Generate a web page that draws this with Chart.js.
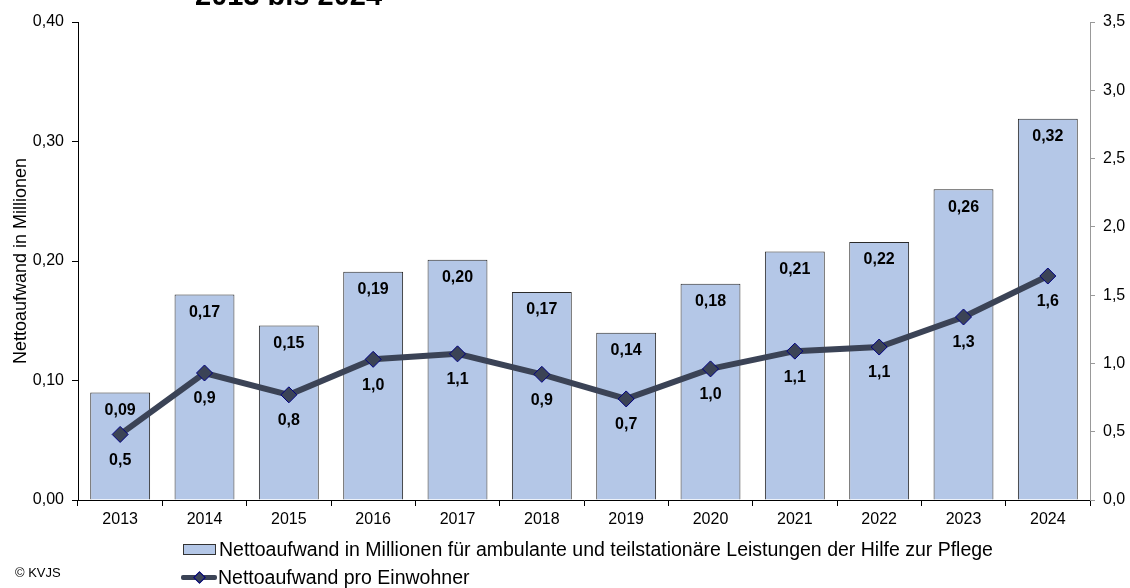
<!DOCTYPE html>
<html>
<head>
<meta charset="utf-8">
<script src="https://cdn.jsdelivr.net/npm/chart.js@4.4.1/dist/chart.umd.min.js"></script>
<style>
  html, body { margin: 0; padding: 0; background: #fff; }
  #wrap { position: relative; width: 1130px; height: 588px; overflow: hidden; font-family: "Liberation Sans", Arial, sans-serif; }
  #c { position: absolute; left: 0; top: 0; }
  #title { position: absolute; left: 195px; top: -22px; font-size: 29px; line-height: 34px; font-weight: bold; color: #000; white-space: nowrap; }
  #copy { position: absolute; left: 15px; top: 565px; font-size: 13px; line-height: 15px; color: #000; }
  .leg { position: absolute; left: 181px; height: 22px; font-size: 19.5px; line-height: 22px; color: #000; white-space: nowrap; display: flex; align-items: center; }
  .box { width: 31px; height: 9px; background: #b4c7e7; border: 1px solid #333; margin-left: 2px; margin-right: 3px; }
  .lineicon { width: 36px; height: 14px; position: relative; margin-right: 1px; }
  .lineicon .ln { position: absolute; left: 0; right: 0; top: 5px; height: 5px; background: #3b4356; border-radius: 2px; }
  .lineicon .dm { position: absolute; left: 14px; top: 3px; width: 7px; height: 7px; background: #3b4356; border: 1px solid #000080; transform: rotate(45deg); }
</style>
</head>
<body>
<div id="wrap">
  <canvas id="c" width="1130" height="588"></canvas>
  <div id="title">2013 bis 2024</div>
  <div id="leg1" class="leg" style="top:538px"><div class="box"></div><span id="leg1t"></span></div>
  <div id="leg2" class="leg" style="top:566px"><div class="lineicon"><div class="ln"></div><div class="dm"></div></div><span id="leg2t"></span></div>
  <div id="copy">© KVJS</div>
</div>
<script>
const years = ['2013','2014','2015','2016','2017','2018','2019','2020','2021','2022','2023','2024'];
const nettoMio = [0.09, 0.172, 0.146, 0.191, 0.201, 0.174, 0.140, 0.181, 0.208, 0.216, 0.260, 0.319];
const proEinwohner = [0.48, 0.93, 0.77, 1.03, 1.07, 0.92, 0.74, 0.96, 1.09, 1.12, 1.34, 1.64];
const barLabel = 'Nettoaufwand in Millionen für ambulante und teilstationäre Leistungen der Hilfe zur Pflege';
const lineLabel = 'Nettoaufwand pro Einwohner';
const leftTitle = 'Nettoaufwand in Millionen';

document.getElementById('leg1t').textContent = barLabel;
document.getElementById('leg2t').textContent = lineLabel;

const FONT = '"Liberation Sans", Arial, sans-serif';
const fmt = (v, d) => v.toFixed(d).replace('.', ',');

const labelPlugin = {
  id: 'valLabels',
  afterDatasetsDraw(chart) {
    const ctx = chart.ctx;
    ctx.save();
    ctx.font = 'bold 16px ' + FONT;
    ctx.fillStyle = '#000';
    ctx.textAlign = 'center';
    ctx.textBaseline = 'middle';
    chart.getDatasetMeta(0).data.forEach((el, i) => {
      ctx.fillText(fmt(nettoMio[i], 2), el.x, el.y + 18);
    });
    chart.getDatasetMeta(1).data.forEach((el, i) => {
      ctx.fillText(fmt(proEinwohner[i], 1), el.x, el.y + 26);
    });
    ctx.restore();
  }
};

new Chart(document.getElementById('c'), {
  data: {
    labels: years,
    datasets: [
      {
        type: 'bar', label: barLabel, data: nettoMio, yAxisID: 'y',
        backgroundColor: '#b4c7e7', borderColor: '#2a2a2a', borderWidth: 1,
        barPercentage: 0.71, categoryPercentage: 1.0, order: 2
      },
      {
        type: 'line', label: lineLabel, data: proEinwohner, yAxisID: 'y1',
        borderColor: '#3b4356', borderWidth: 6, tension: 0,
        pointStyle: 'rectRot', pointRadius: 8, pointBackgroundColor: '#3b4356',
        pointBorderColor: '#000080', pointBorderWidth: 1, order: 1
      }
    ]
  },
  options: {
    responsive: false, animation: false,
    layout: { padding: { top: 22, bottom: 48, left: 0, right: 0 } },
    plugins: { legend: { display: false }, tooltip: { enabled: false } },
    scales: {
      x: {
        offset: true,
        grid: { offset: true, drawOnChartArea: false, drawTicks: true, tickLength: 6, color: '#000' },
        border: { color: '#000', width: 1 },
        ticks: { color: '#000', font: { family: FONT, size: 16 }, padding: 4, maxRotation: 0 },
        afterFit(s) { s.height = 40; }
      },
      y: {
        position: 'left', min: 0, max: 0.4,
        ticks: { stepSize: 0.1, color: '#000', font: { family: FONT, size: 16 }, padding: 8, callback: v => fmt(v, 2) },
        grid: { drawOnChartArea: false, drawTicks: true, tickLength: 6, color: '#000' },
        border: { color: '#000', width: 1 },
        title: { display: true, text: leftTitle, color: '#000', font: { family: FONT, size: 18 }, padding: { top: 10, bottom: 0 } },
        afterFit(s) { s.width = 78; }
      },
      y1: {
        position: 'right', min: 0, max: 3.5,
        ticks: { stepSize: 0.5, color: '#000', font: { family: FONT, size: 16 }, padding: 8, callback: v => fmt(v, 1) },
        grid: { drawOnChartArea: false, drawTicks: true, tickLength: 5, color: '#999' },
        border: { color: '#999', width: 1 },
        afterFit(s) { s.width = 40; }
      }
    }
  },
  plugins: [labelPlugin]
});
</script>
</body>
</html>
